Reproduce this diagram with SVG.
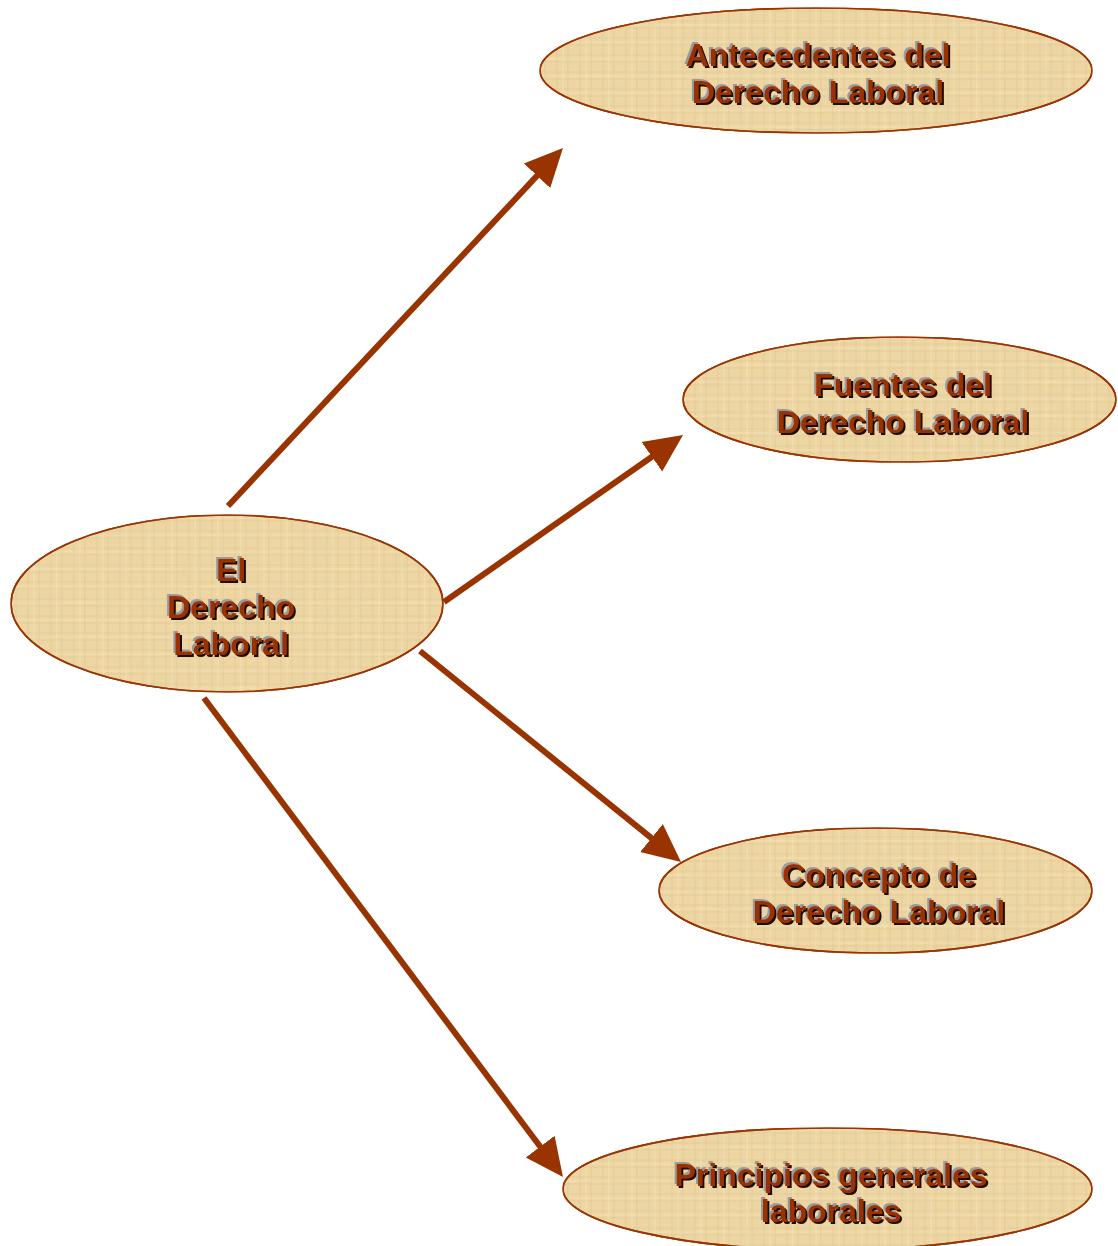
<svg xmlns="http://www.w3.org/2000/svg" width="1118" height="1246" viewBox="0 0 1118 1246">
<defs>
<style>
.node{stroke:#993300;stroke-width:1.6}
.t{font-family:"Liberation Sans",Arial,sans-serif;font-weight:bold;font-size:32px;text-anchor:middle;fill:#993300;filter:url(#ts)}
.conn{stroke:#993300;stroke-width:6;fill:none;marker-end:url(#ah)}
</style>
<marker id="ah" markerUnits="userSpaceOnUse" markerWidth="40" markerHeight="38" refX="8" refY="18" orient="auto" viewBox="0 0 40 36">
<path d="M0,0 L38,18 L0,36 z" fill="#993300"/>
</marker>
<pattern id="grain" patternUnits="userSpaceOnUse" width="23" height="17">
<rect width="23" height="17" fill="#EED7A2"/>
<path d="M0,4 H23 M0,11 H23 M5,0 V17 M16,0 V17" stroke="#D8BE84" stroke-width="1.2" opacity="0.45"/>
<path d="M0,8 H23 M11,0 V17" stroke="#F7E8C4" stroke-width="1" opacity="0.6"/>
</pattern>
<filter id="tex" x="0" y="0" width="1" height="1">
<feTurbulence type="fractalNoise" baseFrequency="0.03 0.07" numOctaves="3" seed="4" result="n"/>
<feColorMatrix in="n" type="matrix" values="0 0 0 0 0.78  0 0 0 0 0.64  0 0 0 0 0.38  0 0 0 0.7 -0.15" result="c"/>
<feComposite in="c" in2="SourceGraphic" operator="atop" result="m"/>
<feMerge><feMergeNode in="SourceGraphic"/><feMergeNode in="m"/></feMerge>
</filter>
<filter id="ts" x="-10%" y="-30%" width="120%" height="160%">
<feOffset in="SourceAlpha" dx="-2.5" dy="-2.5" result="o1"/>
<feFlood flood-color="#9a9a9a" result="f1"/>
<feComposite in="f1" in2="o1" operator="in" result="g"/>
<feOffset in="SourceAlpha" dx="1.8" dy="1.8" result="o2"/>
<feFlood flood-color="#1a0800" result="f2"/>
<feComposite in="f2" in2="o2" operator="in" result="d"/>
<feMerge><feMergeNode in="g"/><feMergeNode in="d"/><feMergeNode in="SourceGraphic"/></feMerge>
</filter>
</defs>
<rect width="1118" height="1246" fill="#ffffff"/>

<g id="connectors">
<line class="conn" x1="228" y1="506" x2="542.5" y2="169.9"/>
<line class="conn" x1="444" y1="602" x2="658.4" y2="452.2"/>
<line class="conn" x1="420" y1="651" x2="657.7" y2="843.1"/>
<line class="conn" x1="204" y1="698" x2="545" y2="1153"/>
</g>

<g id="n-derecho">
<ellipse class="node" cx="227" cy="603.5" rx="216" ry="88.5" fill="url(#grain)" filter="url(#tex)"/>
<ellipse cx="227" cy="603.5" rx="216" ry="88.5" fill="none" stroke="#993300" stroke-width="1.6"/>
<text class="t" x="231" y="581">El</text>
<text class="t" x="231" y="618">Derecho</text>
<text class="t" x="231" y="655">Laboral</text>
</g>

<g id="n-antecedentes">
<ellipse class="node" cx="816" cy="70.5" rx="276" ry="62.5" fill="url(#grain)" filter="url(#tex)"/>
<ellipse cx="816" cy="70.5" rx="276" ry="62.5" fill="none" stroke="#993300" stroke-width="1.6"/>
<text class="t" x="818" y="66">Antecedentes del</text>
<text class="t" x="818" y="103">Derecho Laboral</text>
</g>

<g id="n-fuentes">
<ellipse class="node" cx="899.5" cy="399.5" rx="216.5" ry="62.5" fill="url(#grain)" filter="url(#tex)"/>
<ellipse cx="899.5" cy="399.5" rx="216.5" ry="62.5" fill="none" stroke="#993300" stroke-width="1.6"/>
<text class="t" x="903" y="396">Fuentes del</text>
<text class="t" x="903" y="433">Derecho Laboral</text>
</g>

<g id="n-concepto">
<ellipse class="node" cx="875.5" cy="890.5" rx="216.5" ry="62.5" fill="url(#grain)" filter="url(#tex)"/>
<ellipse cx="875.5" cy="890.5" rx="216.5" ry="62.5" fill="none" stroke="#993300" stroke-width="1.6"/>
<text class="t" x="879" y="886">Concepto de</text>
<text class="t" x="879" y="923">Derecho Laboral</text>
</g>

<g id="n-principios">
<ellipse class="node" cx="827.5" cy="1189" rx="264.5" ry="61" fill="url(#grain)" filter="url(#tex)"/>
<ellipse cx="827.5" cy="1189" rx="264.5" ry="61" fill="none" stroke="#993300" stroke-width="1.6"/>
<text class="t" x="831" y="1186">Principios generales</text>
<text class="t" x="831" y="1222">laborales</text>
</g>
</svg>
